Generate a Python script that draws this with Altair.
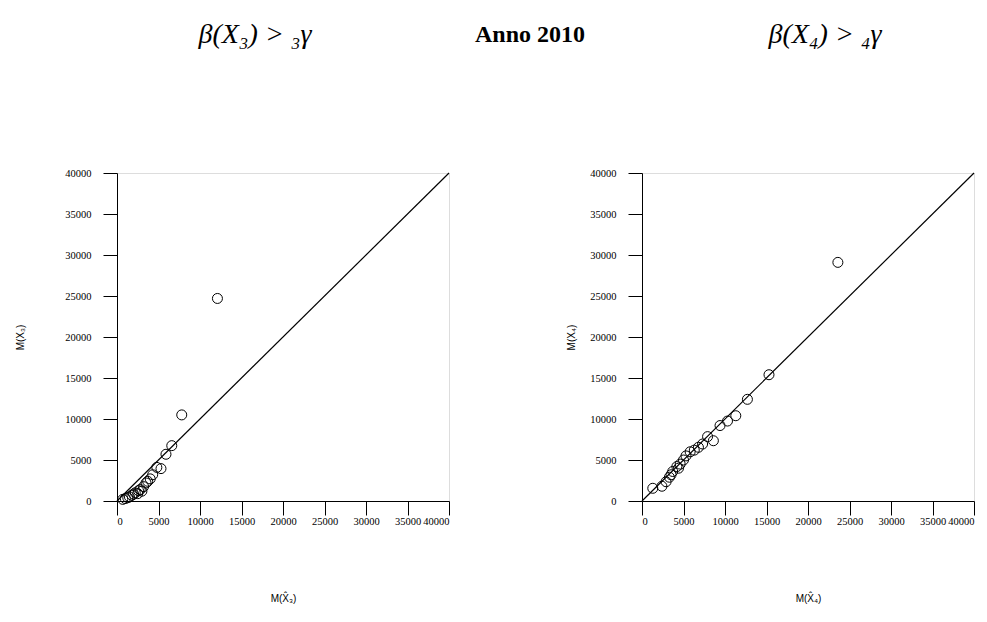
import altair as alt
import pandas as pd

# ---- data ----
left_x = [700, 1000, 1300, 1500, 1800, 2000, 2200, 2500, 2600, 2800, 3000, 3200,
          3500, 3700, 4000, 4300, 4800, 5300, 5900, 6600, 7800, 12100]
left_y = [200, 300, 400, 500, 700, 850, 1000, 900, 1250, 1400, 1200, 1750,
          2200, 2400, 2700, 3200, 4100, 3950, 5700, 6750, 10500, 24700]

right_x = [1300, 2400, 2900, 3300, 3500, 3700, 4200, 4400, 4600, 5000, 5300, 5800,
           6300, 6800, 7300, 7900, 8600, 9400, 10300, 11300, 12700, 15300, 23600]
right_y = [1550, 1800, 2350, 2900, 3200, 3600, 4200, 4000, 4500, 5000, 5500, 6000,
           6200, 6550, 6950, 7850, 7350, 9200, 9750, 10400, 12400, 15400, 29100]

diag = [0, 40000]
tick_values = [0, 5000, 10000, 15000, 20000, 25000, 30000, 35000, 40000]

head_left = "β(X₃) > ₃γ"
head_mid = "Anno 2010"
head_right = "β(X₄) > ₄γ"

W, H = 332, 328


def axis(title, title_pad, orient):
    return alt.Axis(
        title=title, values=tick_values, format="d", grid=False,
        domainColor="black", domainWidth=1, tickColor="black", tickWidth=1,
        tickSize=14, ticks=True, labelPadding=12 if orient == "left" else 1,
        labelFont="Liberation Serif", labelFontSize=10.5, labelColor="black",
        labelAngle=0, labelOverlap=False,
        titleFont="Liberation Sans", titleFontSize=10, titleFontWeight="normal",
        titleColor="black", titlePadding=title_pad,
    )


def panel(xs, ys, xtitle, ytitle, ytitle_pad, heads):
    scale = alt.Scale(domain=[0, 40000], nice=False, zero=False)
    pts = pd.DataFrame({"x": xs, "y": ys})
    line_df = pd.DataFrame({"x": diag, "y": diag})
    xenc = alt.X("x:Q", scale=scale, axis=axis(xtitle, 67, "bottom"))
    yenc = alt.Y("y:Q", scale=scale, axis=axis(ytitle, ytitle_pad, "left"))
    line = alt.Chart(line_df).mark_line(color="black", strokeWidth=1.2).encode(x=xenc, y=yenc)
    points = alt.Chart(pts).mark_point(shape="circle", filled=False, color="black",
                                       size=100, strokeWidth=1, opacity=1).encode(x=xenc, y=yenc)
    layers = [line, points]
    for text, px, bold in heads:
        layers.append(
            alt.Chart(pd.DataFrame({"t": [text]})).mark_text(
                font="Liberation Serif", fontSize=24 if bold else 28,
                fontStyle="normal" if bold else "italic",
                fontWeight="bold" if bold else "normal", color="black",
                align="center", baseline="middle",
            ).encode(x=alt.value(px), y=alt.value(-138), text="t:N")
        )
    return alt.layer(*layers).properties(width=W, height=H)


left = panel(left_x, left_y, "M(X̂₃)", "M(X₃)", 39,
             [(head_left, 138, False), (head_mid, 413, True)])
right = panel(right_x, right_y, "M(X̂₄)", "M(X₄)", 13,
              [(head_right, 183, False)])

chart = alt.hconcat(left, right, spacing=193, bounds="flush").properties(
    padding={"left": 7, "top": 12, "right": 0, "bottom": 5}
).configure_view(stroke=None).configure(background="white").configure_axis(
    tickSize=14, tickColor="black", tickWidth=1
)

chart.save("out.html", embed_options={"renderer": "svg", "actions": False})
